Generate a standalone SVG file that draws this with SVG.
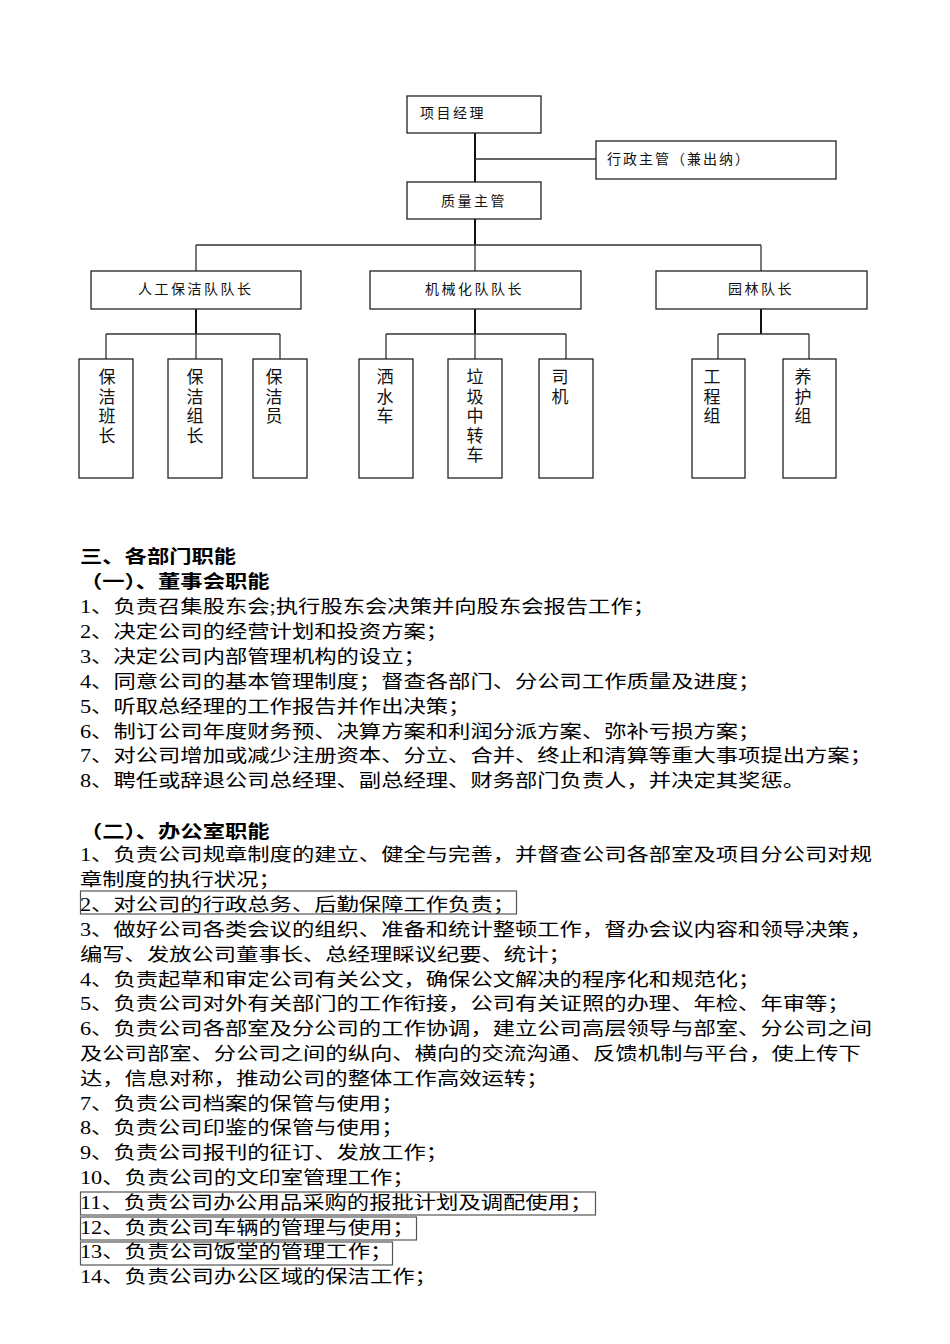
<svg xmlns="http://www.w3.org/2000/svg" width="950" height="1344" viewBox="0 0 950 1344">
<style>
.box{fill:#fff;stroke:#222;stroke-width:1.3}
.lab{font-family:"Liberation Sans","Noto Sans CJK SC",sans-serif;font-size:14px;letter-spacing:2.5px;fill:#111}
.vlab{font-family:"Liberation Sans","Noto Sans CJK SC",sans-serif;font-size:17px;fill:#111;text-anchor:middle}
.thick{stroke:#111;stroke-width:2;fill:none}
.thin{stroke:#333;stroke-width:1.3;fill:none}
.body{font-family:"Liberation Serif","Noto Sans CJK SC",serif;font-size:18px;fill:#000}
.head{font-family:"Liberation Sans","Noto Sans CJK SC",sans-serif;font-size:18px;font-weight:bold;fill:#000}
.hl{fill:none;stroke:#555;stroke-width:1.2}
</style>
<rect width="950" height="1344" fill="#fff"/>
<g id="connectors">
<path class="thick" d="M475 133V182M475 219V245M196 309V334M475 309V334M761 309V334"/>
<path class="thin" d="M475 159H596M196 245H761M196 245V271M475 245V271M761 245V271"/>
<path class="thin" d="M106 334H280M106 334V359M196 334V359M280 334V359"/>
<path class="thin" d="M386 334H566M386 334V359M475 334V359M566 334V359"/>
<path class="thin" d="M718 334H809M718 334V359M809 334V359"/>
</g>
<g id="n-pm"><rect class="box" x="407" y="96" width="134" height="37"/><text class="lab" x="420" y="118">项目经理</text></g>
<g id="n-admin"><rect class="box" x="596" y="141" width="240" height="38"/><text class="lab" x="607" y="164" style="letter-spacing:2px">行政主管（兼出纳）</text></g>
<g id="n-qm"><rect class="box" x="407" y="182" width="134" height="37"/><text class="lab" x="441" y="206">质量主管</text></g>
<g id="n-team1"><rect class="box" x="91" y="271" width="210" height="38"/><text class="lab" x="138" y="294">人工保洁队队长</text></g>
<g id="n-team2"><rect class="box" x="370" y="271" width="211" height="38"/><text class="lab" x="425" y="294">机械化队队长</text></g>
<g id="n-team3"><rect class="box" x="656" y="271" width="211" height="38"/><text class="lab" x="728" y="294">园林队长</text></g>
<g id="n-b1"><rect class="box" x="79" y="359" width="54" height="119"/><text class="vlab"><tspan x="107" y="383">保</tspan><tspan x="107" dy="19.5">洁</tspan><tspan x="107" dy="19.5">班</tspan><tspan x="107" dy="19.5">长</tspan></text></g>
<g id="n-b2"><rect class="box" x="168" y="359" width="54" height="119"/><text class="vlab"><tspan x="195" y="383">保</tspan><tspan x="195" dy="19.5">洁</tspan><tspan x="195" dy="19.5">组</tspan><tspan x="195" dy="19.5">长</tspan></text></g>
<g id="n-b3"><rect class="box" x="253" y="359" width="54" height="119"/><text class="vlab"><tspan x="274" y="383">保</tspan><tspan x="274" dy="19.5">洁</tspan><tspan x="274" dy="19.5">员</tspan></text></g>
<g id="n-b4"><rect class="box" x="359" y="359" width="54" height="119"/><text class="vlab"><tspan x="385" y="383">洒</tspan><tspan x="385" dy="19.5">水</tspan><tspan x="385" dy="19.5">车</tspan></text></g>
<g id="n-b5"><rect class="box" x="448" y="359" width="54" height="119"/><text class="vlab"><tspan x="475" y="383">垃</tspan><tspan x="475" dy="19.5">圾</tspan><tspan x="475" dy="19.5">中</tspan><tspan x="475" dy="19.5">转</tspan><tspan x="475" dy="19.5">车</tspan></text></g>
<g id="n-b6"><rect class="box" x="539" y="359" width="54" height="119"/><text class="vlab"><tspan x="560" y="383">司</tspan><tspan x="560" dy="19.5">机</tspan></text></g>
<g id="n-b7"><rect class="box" x="692" y="359" width="53" height="119"/><text class="vlab"><tspan x="712" y="383">工</tspan><tspan x="712" dy="19.5">程</tspan><tspan x="712" dy="19.5">组</tspan></text></g>
<g id="n-b8"><rect class="box" x="783" y="359" width="53" height="119"/><text class="vlab"><tspan x="803" y="383">养</tspan><tspan x="803" dy="19.5">护</tspan><tspan x="803" dy="19.5">组</tspan></text></g>
<g id="highlights">
<rect class="hl" x="80.5" y="891" width="436" height="23"/>
<rect class="hl" x="80.5" y="1192" width="515" height="23"/>
<rect class="hl" x="80.5" y="1217" width="336" height="23"/>
<rect class="hl" x="80.5" y="1242" width="312" height="23"/>
</g>
<g id="text" transform="scale(1.24 1)">
<text class="head" x="64.5" y="563.5">三、各部门职能</text>
<text class="head" x="64.5" y="588.5">（一）、董事会职能</text>
<text class="body" x="64.5" y="613.5">1、负责召集股东会;执行股东会决策并向股东会报告工作；</text>
<text class="body" x="64.5" y="638.3">2、决定公司的经营计划和投资方案；</text>
<text class="body" x="64.5" y="663.1">3、决定公司内部管理机构的设立；</text>
<text class="body" x="64.5" y="688">4、同意公司的基本管理制度；督查各部门、分公司工作质量及进度；</text>
<text class="body" x="64.5" y="712.8">5、听取总经理的工作报告并作出决策；</text>
<text class="body" x="64.5" y="737.6">6、制订公司年度财务预、决算方案和利润分派方案、弥补亏损方案；</text>
<text class="body" x="64.5" y="762.4">7、对公司增加或减少注册资本、分立、合并、终止和清算等重大事项提出方案；</text>
<text class="body" x="64.5" y="787.2">8、聘任或辞退公司总经理、副总经理、财务部门负责人，并决定其奖惩。</text>
<text class="head" x="64.5" y="838.5">（二）、办公室职能</text>
<text class="body" x="64.5" y="861.5">1、负责公司规章制度的建立、健全与完善，并督查公司各部室及项目分公司对规</text>
<text class="body" x="64.5" y="886.3">章制度的执行状况；</text>
<text class="body" x="64.5" y="911.1">2、对公司的行政总务、后勤保障工作负责；</text>
<text class="body" x="64.5" y="936">3、做好公司各类会议的组织、准备和统计整顿工作，督办会议内容和领导决策，</text>
<text class="body" x="64.5" y="960.8">编写、发放公司董事长、总经理睬议纪要、统计；</text>
<text class="body" x="64.5" y="985.6">4、负责起草和审定公司有关公文，确保公文解决的程序化和规范化；</text>
<text class="body" x="64.5" y="1010.4">5、负责公司对外有关部门的工作衔接，公司有关证照的办理、年检、年审等；</text>
<text class="body" x="64.5" y="1035.2">6、负责公司各部室及分公司的工作协调，建立公司高层领导与部室、分公司之间</text>
<text class="body" x="64.5" y="1060">及公司部室、分公司之间的纵向、横向的交流沟通、反馈机制与平台，使上传下</text>
<text class="body" x="64.5" y="1084.8">达，信息对称，推动公司的整体工作高效运转；</text>
<text class="body" x="64.5" y="1109.6">7、负责公司档案的保管与使用；</text>
<text class="body" x="64.5" y="1134.4">8、负责公司印鉴的保管与使用；</text>
<text class="body" x="64.5" y="1159.2">9、负责公司报刊的征订、发放工作；</text>
<text class="body" x="64.5" y="1184">10、负责公司的文印室管理工作；</text>
<text class="body" x="64.5" y="1208.8">11、负责公司办公用品采购的报批计划及调配使用；</text>
<text class="body" x="64.5" y="1233.6">12、负责公司车辆的管理与使用；</text>
<text class="body" x="64.5" y="1258.4">13、负责公司饭堂的管理工作；</text>
<text class="body" x="64.5" y="1283.2">14、负责公司办公区域的保洁工作；</text>
</g>
</svg>
